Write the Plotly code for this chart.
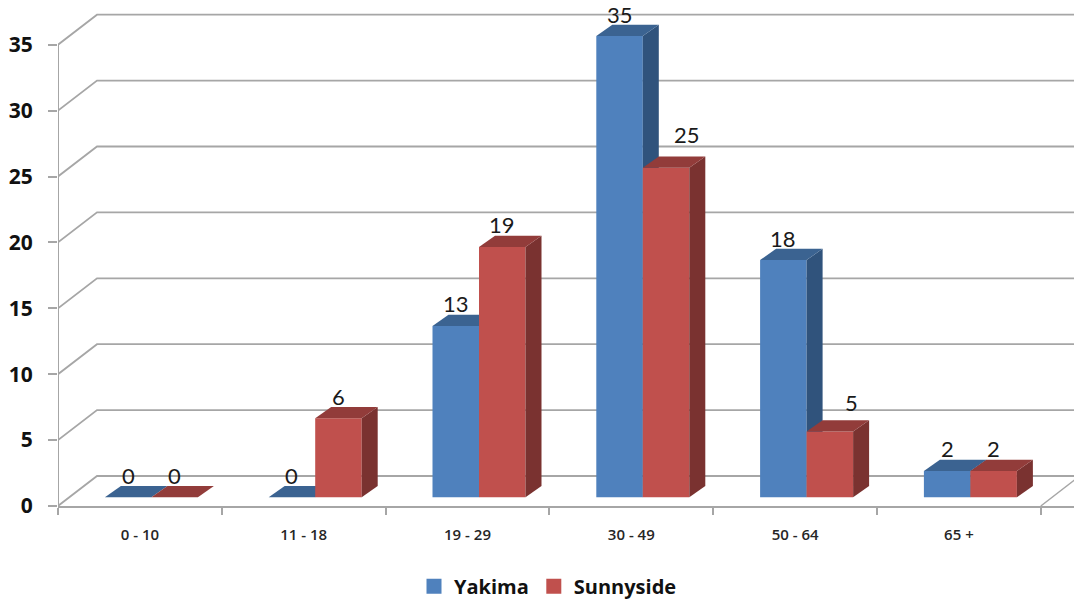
import plotly.graph_objects as go

# Chart data
categories = ["0 - 10", "11 - 18", "19 - 29", "30 - 49", "50 - 64", "65 +"]
yakima = [0, 0, 13, 35, 18, 2]
sunnyside = [0, 6, 19, 25, 5, 2]
value_ticks = [0, 5, 10, 15, 20, 25, 30, 35]

# Scales: pixels per category and per value unit
CAT_PX = 163.8
VAL_PX = 13.18
PLOT_BOTTOM = 506
PLOT_LEFT = 58
WIDTH, HEIGHT = 1074, 600

# Depth of the walls and of the bars, expressed in axis units
WALL_DX = 39 / CAT_PX
WALL_DY = 30 / VAL_PX
BAR_DX = 16 / CAT_PX
BAR_DY = 11.2 / VAL_PX
BAR_W = 46.5 / CAT_PX
GROUP_SHIFT = 11.5 / CAT_PX
FLOOR_LIFT = 8.7  # pixels between the front axis and the foot of the bars

X_RANGE = [-0.5, -0.5 + (WIDTH - PLOT_LEFT) / CAT_PX]
Y_RANGE = [0, PLOT_BOTTOM / VAL_PX]
BAR_Y_RANGE = [-FLOOR_LIFT / VAL_PX, (PLOT_BOTTOM - FLOOR_LIFT) / VAL_PX]

GRID = "#A6A6A6"
LABEL_FONT = "Lato"
BOLD_FONT = "Open Sans"
BLUE, RED = "#4F81BD", "#C0504D"

fig = go.Figure()

# Wall and floor lines: front edge, back edge, then along the back wall
for v in value_ticks:
    fig.add_trace(go.Scatter(
        x=[X_RANGE[0], X_RANGE[0] + WALL_DX, X_RANGE[1]],
        y=[v, v + WALL_DY, v + WALL_DY],
        mode="lines", line=dict(color=GRID, width=1.8),
        showlegend=False, hoverinfo="skip", cliponaxis=False,
    ))
# Front edge of the left wall, which stops at the top tick
fig.add_trace(go.Scatter(
    x=[X_RANGE[0], X_RANGE[0]], y=[value_ticks[0], value_ticks[-1]],
    mode="lines", line=dict(color=GRID, width=2),
    showlegend=False, hoverinfo="skip", cliponaxis=False,
))
# Right-hand edge of the floor
fig.add_trace(go.Scatter(
    x=[5.5, 5.5 + WALL_DX], y=[0, WALL_DY],
    mode="lines", line=dict(color=GRID, width=1.4),
    showlegend=False, hoverinfo="skip",
))


def add_series(name, values, front, top, side, offset, yaxis):
    """One bar series: front faces as bars, top and side faces as filled polygons."""
    fig.add_trace(go.Bar(
        x=list(range(len(values))), y=values, name=name, yaxis=yaxis,
        width=BAR_W, offset=offset, marker=dict(color=front, line=dict(width=0)),
        showlegend=False,
    ))
    for i, v in enumerate(values):
        xl = i + offset
        xr = xl + BAR_W
        if v > 0:
            fig.add_trace(go.Scatter(
                x=[xr, xr, xr + BAR_DX, xr + BAR_DX, xr],
                y=[0, v, v + BAR_DY, BAR_DY, 0],
                yaxis=yaxis, mode="lines", fill="toself", fillcolor=side,
                line=dict(width=0), showlegend=False, hoverinfo="skip",
            ))
        fig.add_trace(go.Scatter(
            x=[xl, xr, xr + BAR_DX, xl + BAR_DX, xl],
            y=[v, v, v + BAR_DY, v + BAR_DY, v],
            yaxis=yaxis, mode="lines", fill="toself", fillcolor=top,
            line=dict(width=0), showlegend=False, hoverinfo="skip",
        ))
    # Empty trace that only supplies a larger square legend key
    fig.add_trace(go.Scatter(
        x=[None], y=[None], name=name, mode="markers",
        marker=dict(symbol="square", size=15, color=front),
    ))


add_series("Yakima", yakima, BLUE, "#3B6391", "#30537C", GROUP_SHIFT - BAR_W, "y2")
add_series("Sunnyside", sunnyside, RED, "#923C3A", "#7A3230", GROUP_SHIFT, "y3")

# Value labels sit above each bar; two of them are nudged clear of the taller neighbour
nudges = {("Sunnyside", 3): (21, 11), ("Sunnyside", 4): (22, 7)}
for name, values, off in (("Yakima", yakima, GROUP_SHIFT - BAR_W),
                          ("Sunnyside", sunnyside, GROUP_SHIFT)):
    for i, v in enumerate(values):
        dx, dy = nudges.get((name, i), (0, 0))
        fig.add_annotation(
            x=i + off + BAR_W / 2, y=v, xref="x", yref="y3",
            text=str(v), showarrow=False, xshift=dx, yshift=22 + dy,
            font=dict(family=LABEL_FONT, size=22, color="#1A1A1A"),
        )

hidden_axis = dict(overlaying="y", range=BAR_Y_RANGE, visible=False, fixedrange=True)

fig.update_layout(
    width=WIDTH, height=HEIGHT,
    margin=dict(l=PLOT_LEFT, r=0, t=0, b=HEIGHT - PLOT_BOTTOM, autoexpand=False),
    paper_bgcolor="white", plot_bgcolor="white",
    barmode="overlay",
    xaxis=dict(
        range=X_RANGE, tickmode="array", tickvals=list(range(len(categories))),
        ticktext=categories, ticks="", ticklabelstandoff=14, showgrid=False,
        zeroline=False, showline=True, linecolor=GRID, linewidth=2,
        tickfont=dict(family=BOLD_FONT, size=15, weight=600, color="#262626"),
        minor=dict(tickvals=[i - 0.5 for i in range(len(categories) + 1)],
                   ticks="outside", ticklen=7, tickwidth=1.5, tickcolor=GRID,
                   showgrid=False),
    ),
    yaxis=dict(
        range=Y_RANGE, tickmode="array", tickvals=value_ticks, showgrid=False,
        zeroline=False, showline=False,
        ticks="outside", ticklen=9, tickwidth=1.5, tickcolor=GRID,
        ticklabelstandoff=11,
        tickfont=dict(family=BOLD_FONT, size=21, weight=700, color="#111111"),
    ),
    yaxis2=hidden_axis,
    yaxis3=hidden_axis,
    showlegend=True,
    legend=dict(
        orientation="h", x=(414 - PLOT_LEFT) / (WIDTH - PLOT_LEFT), xanchor="left",
        y=-0.12, yanchor="top", bgcolor="rgba(0,0,0,0)",
        font=dict(family=BOLD_FONT, size=20, weight=700, color="#111111"),
    ),
)

fig.write_html("out.html", config={"displayModeBar": False})
